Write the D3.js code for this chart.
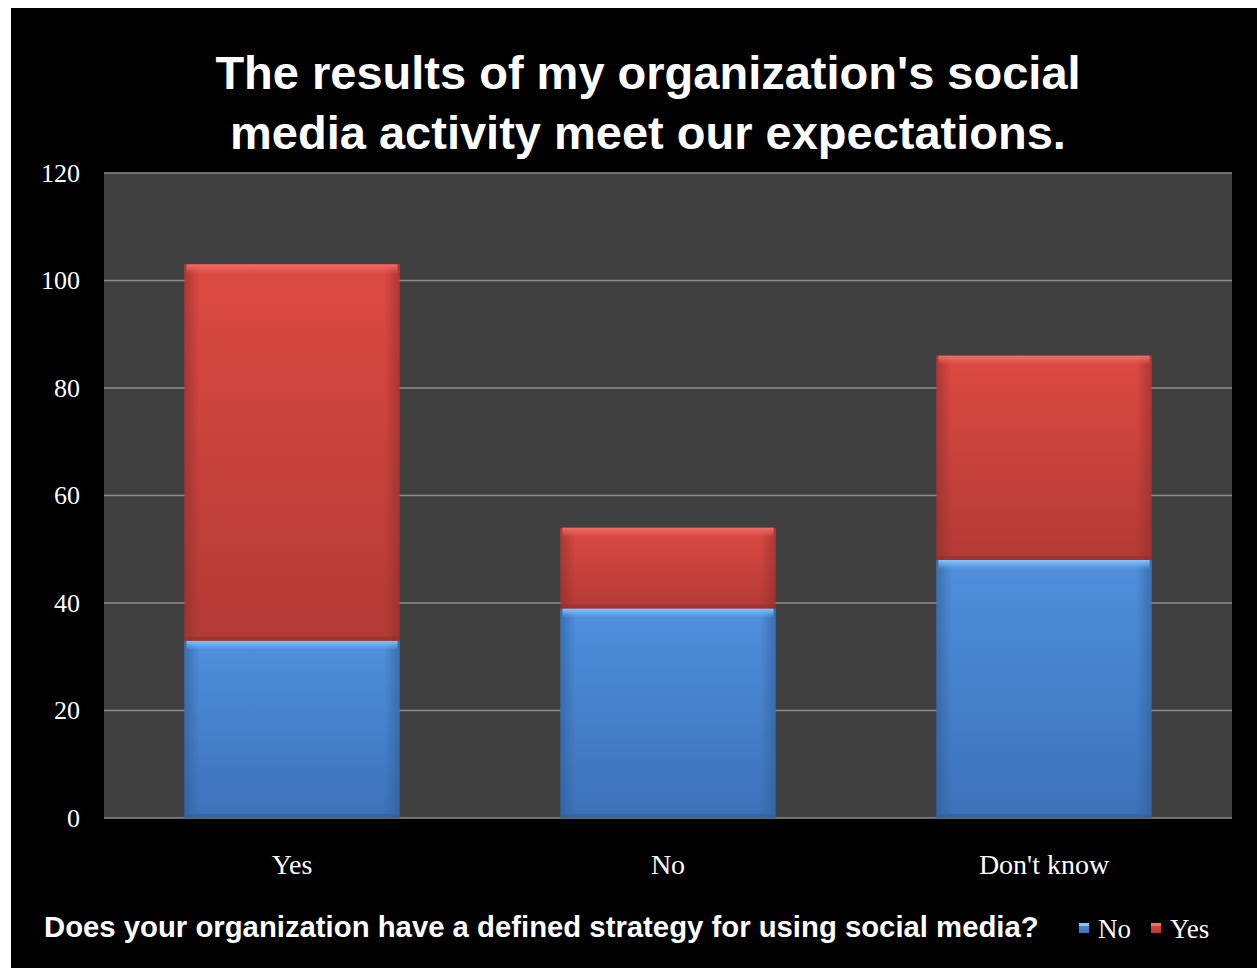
<!DOCTYPE html>
<html>
<head>
<meta charset="utf-8">
<script src="https://cdn.jsdelivr.net/npm/d3@7/dist/d3.min.js"></script>
<style>
  html, body { margin: 0; padding: 0; background: #ffffff; }
  svg { display: block; }
</style>
</head>
<body>
<svg id="chart" width="1260" height="968"></svg>
<script>
// Survey answers: does the organization have a defined social media strategy?
const categories = ["Yes", "No", "Don't know"];
// Stacked series: whether social media results meet expectations
const seriesNames = ["No", "Yes"];
const noValues = [33, 39, 48];
const yesValues = [70, 15, 38];
const yTicks = [0, 20, 40, 60, 80, 100, 120];

const titleLines = ["The results of my organization's social", "media activity meet our expectations."];
const xAxisTitle = "Does your organization have a defined strategy for using social media?";

const svg = d3.select("#chart");
const W = 1260, H = 968;

// Black slide background with a thin white margin on the left/top/right
svg.append("rect").attr("x", 11).attr("y", 8).attr("width", 1246).attr("height", H - 8).attr("fill", "#000");

const defs = svg.append("defs");
const palettes = {
  No:  { light: "#86c4fb", top: "#4f8fdc", bottom: "#3c72b8", edge: "#2e5c97" },
  Yes: { light: "#f26d66", top: "#dc4a43", bottom: "#b33a35", edge: "#8f2d29" }
};
Object.entries(palettes).forEach(([k, p]) => {
  const v = defs.append("linearGradient").attr("id", "v-" + k).attr("x1", 0).attr("y1", 0).attr("x2", 0).attr("y2", 1);
  v.append("stop").attr("offset", "0%").attr("stop-color", p.top);
  v.append("stop").attr("offset", "100%").attr("stop-color", p.bottom);
  const h = defs.append("linearGradient").attr("id", "h-" + k).attr("x1", 0).attr("y1", 0).attr("x2", 1).attr("y2", 0);
  h.append("stop").attr("offset", "0%").attr("stop-color", p.edge).attr("stop-opacity", 0.6);
  h.append("stop").attr("offset", "7%").attr("stop-color", p.edge).attr("stop-opacity", 0.0);
  h.append("stop").attr("offset", "93%").attr("stop-color", p.edge).attr("stop-opacity", 0.0);
  h.append("stop").attr("offset", "100%").attr("stop-color", p.edge).attr("stop-opacity", 0.6);
  const t = defs.append("linearGradient").attr("id", "t-" + k).attr("x1", 0).attr("y1", 0).attr("x2", 0).attr("y2", 1);
  t.append("stop").attr("offset", "0%").attr("stop-color", p.light).attr("stop-opacity", 1);
  t.append("stop").attr("offset", "100%").attr("stop-color", p.light).attr("stop-opacity", 0);
});

// Title
const title = svg.append("text")
  .attr("x", 648).attr("text-anchor", "middle")
  .attr("font-family", "Liberation Sans, Arial, sans-serif")
  .attr("font-weight", "bold").attr("font-size", 47).attr("fill", "#fff");
titleLines.forEach((l, i) => title.append("tspan").attr("x", 648).attr("y", 89 + i * 60).text(l));

// Plot area
const plotLeft = 104, plotRight = 1232, plotTop = 173, plotBottom = 818;
svg.append("rect").attr("x", plotLeft).attr("y", plotTop)
  .attr("width", plotRight - plotLeft).attr("height", plotBottom - plotTop).attr("fill", "#404040");

const x = d3.scaleBand().domain(categories).range([plotLeft, plotRight]).paddingInner(0.428).paddingOuter(0.214);
const y = d3.scaleLinear().domain([0, 120]).range([plotBottom, plotTop]);

// Gridlines
svg.append("g").selectAll("line").data(yTicks).join("line")
  .attr("x1", plotLeft).attr("x2", plotRight)
  .attr("y1", d => y(d)).attr("y2", d => y(d))
  .attr("stroke", "#8c8c8c").attr("stroke-width", 1.3);

// Y axis labels
const yAxis = svg.append("g").attr("transform", `translate(${plotLeft},0)`)
  .call(d3.axisLeft(y).tickValues(yTicks).tickSize(0).tickPadding(24));
yAxis.select(".domain").remove();
yAxis.selectAll("text").attr("fill", "#fff").attr("font-size", 26)
  .attr("font-family", "Liberation Serif, Times New Roman, serif");

// Stacked bars with a bevelled look
const rows = categories.map((c, i) => ({ cat: c, No: noValues[i], Yes: yesValues[i] }));
const stack = d3.stack().keys(seriesNames)(rows);
const bars = svg.append("g");
stack.forEach(layer => {
  const k = layer.key;
  layer.forEach(seg => {
    const x0 = x(seg.data.cat), w = x.bandwidth();
    const y0 = y(seg[1]), h = y(seg[0]) - y(seg[1]);
    const g = bars.append("g");
    g.append("rect").attr("x", x0).attr("y", y0).attr("width", w).attr("height", h).attr("fill", `url(#v-${k})`);
    g.append("rect").attr("x", x0).attr("y", y0).attr("width", w).attr("height", h).attr("fill", `url(#h-${k})`);
    g.append("rect").attr("x", x0 + 2).attr("y", y0).attr("width", w - 4).attr("height", 9).attr("fill", `url(#t-${k})`);
    g.append("rect").attr("x", x0).attr("y", y0 + h - 4).attr("width", w).attr("height", 4).attr("fill", palettes[k].edge).attr("opacity", 0.5);
  });
});

// X axis labels
const xAxis = svg.append("g").attr("transform", `translate(0,${plotBottom})`)
  .call(d3.axisBottom(x).tickSize(0).tickPadding(36));
xAxis.select(".domain").remove();
xAxis.selectAll("text").attr("fill", "#fff").attr("font-size", 28)
  .attr("font-family", "Liberation Serif, Times New Roman, serif");

// X axis title
svg.append("text").attr("x", 44).attr("y", 937)
  .attr("font-family", "Liberation Sans, Arial, sans-serif").attr("font-weight", "bold")
  .attr("font-size", 29.3).attr("fill", "#fff").text(xAxisTitle);

// Legend
const legendX = [1079, 1151];
seriesNames.forEach((k, i) => {
  const lg = svg.append("g").attr("transform", `translate(${legendX[i]},923)`);
  lg.append("rect").attr("width", 10).attr("height", 10).attr("fill", `url(#v-${k})`);
  lg.append("rect").attr("width", 10).attr("height", 3).attr("fill", palettes[k].light);
  lg.append("text").attr("x", 19).attr("y", 15).attr("fill", "#fff").attr("font-size", 27)
    .attr("font-family", "Liberation Serif, Times New Roman, serif").text(k);
});
</script>
</body>
</html>
